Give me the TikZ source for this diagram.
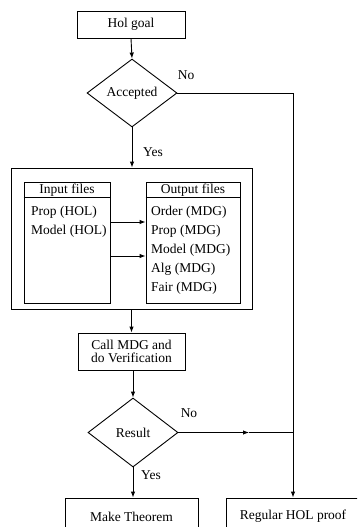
\documentclass[tikz,border=0pt]{standalone}
\usepackage{fontspec}
\setmainfont{Liberation Serif}
\usetikzlibrary{shapes.geometric,arrows.meta}
\tikzset{
  every node/.style={font=\fontsize{13.5}{14.5}\selectfont},
  box/.style={draw, line width=0.9pt, inner sep=0pt, align=center},
  dia/.style={draw, diamond, line width=0.9pt, inner sep=0pt, minimum width=90pt, minimum height=68pt},
  conn/.style={line width=0.9pt},
  arr/.style={line width=0.9pt, -{Latex[length=6pt,width=4.5pt]}},
  lbl/.style={inner sep=0pt},
  item/.style={inner sep=0pt, anchor=west},
}
\begin{document}
\begin{tikzpicture}[x=1pt,y=-1pt]
\useasboundingbox (0,0) rectangle (357,527);
\clip (0,0) rectangle (357,527);
\fill[white] (0,0) rectangle (357,527);
% top
\node[box, minimum width=108pt, minimum height=27pt] (goal) at (131,24.5) {Hol goal};
\node[dia] (acc) at (132,93) {Accepted};
\node[lbl] (no1) at (186,75) {No};
\node[lbl] (yes1) at (153,152) {Yes};
% big box
\node[box, minimum width=241pt, minimum height=141pt] (outer) at (131.5,238.5) {};
\node[box, minimum width=86pt, minimum height=121pt] (in) at (67,242.5) {};
\node[box, minimum width=94pt, minimum height=121pt] (out) at (193,242.5) {};
\coordinate (hy) at (0,197);
\draw[conn] (in.west |- hy) -- (in.east |- hy);
\draw[conn] (out.west |- hy) -- (out.east |- hy);
\node[lbl] (inh) at (67,190) {Input files};
\node[lbl] (outh) at (193,190) {Output files};
\node[item] (i1) at (31,212) {Prop (HOL)};
\node[item] (i2) at (31,231) {Model (HOL)};
\node[item] (o1) at (151,212) {Order (MDG)};
\node[item] (o2) at (151,231) {Prop (MDG)};
\node[item] (o3) at (151,250) {Model (MDG)};
\node[item] (o4) at (151,269) {Alg (MDG)};
\node[item] (o5) at (151,288) {Fair (MDG)};
\coordinate (ya) at (0,222);
\coordinate (yb) at (0,256);
\draw[arr] (in.east |- ya) -- (out.west |- ya);
\draw[arr] (in.east |- yb) -- (out.west |- yb);
% lower part
\node[box, minimum width=107pt, minimum height=37pt] (call) at (131.5,351.5) {Call MDG and\\[-1pt]do Verification};
\node[dia, minimum height=69pt] (res) at (133,432.5) {Result};
\node[lbl] (no2) at (189,413) {No};
\node[lbl] (yes2) at (151,475) {Yes};
\node[box, minimum width=133pt, minimum height=37pt] (thm) at (131.5,516.5) {Make Theorem};
\node[box, minimum width=134pt, minimum height=37pt] (reg) at (293,516.5) {Regular HOL proof};
% connectors
\draw[arr] (goal.south) -- (acc.north);
\draw[arr] (acc.south) -- (acc.south |- outer.north);
\draw[arr] (outer.south -| call.north) -- (call.north);
\draw[arr] (call.south) -- (call.south -| res.north) -- (res.north);
\draw[arr] (res.south) -- (res.south |- thm.north);
\coordinate (c1) at (293,93);
\coordinate (mid) at (249,432.5);
\coordinate (junc) at (293,432.5);
\draw[conn] (acc.east) -- (c1);
\draw[arr] (c1) -- (reg.north);
\draw[arr] (res.east) -- (mid);
\draw[conn] (mid) -- (junc);
\end{tikzpicture}
\end{document}
